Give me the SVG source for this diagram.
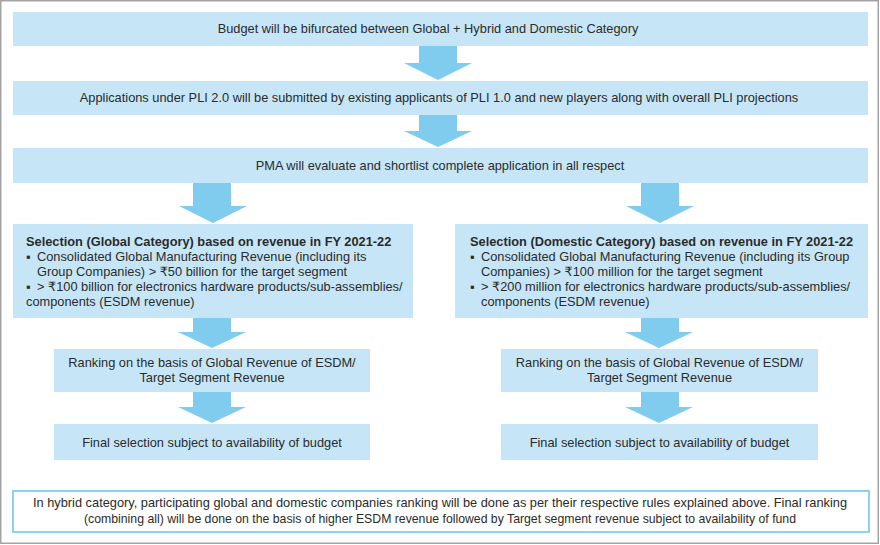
<svg xmlns="http://www.w3.org/2000/svg" width="880" height="545" viewBox="0 0 880 545">
<style>
.box{fill:#c6e6f8}
.arr{fill:#80ccef}
text{font-family:"Liberation Sans",Arial,"DejaVu Sans",sans-serif;font-size:12.8px;fill:#2b2b2b}
.c{text-anchor:middle}
.b{font-weight:bold}
</style>
<rect x="0.75" y="0.75" width="877.5" height="542.5" fill="#ffffff" stroke="#a3a3a3" stroke-width="1.5"/>
<g id="connectors">
<polygon class="arr" points="419,45 457,45 457,63 472,63 438,80 404,63 419,63"/>
<polygon class="arr" points="419,115 457,115 457,131 472,131 438,147 404,131 419,131"/>
<polygon class="arr" points="193,183 231,183 231,206 247,206 213,223 179,206 193,206"/>
<polygon class="arr" points="641,183 679,183 679,206 694,206 660,223 626,206 641,206"/>
<polygon class="arr" points="193,318 231,318 231,332 246,332 212,348 178,332 193,332"/>
<polygon class="arr" points="193,392 231,392 231,407 246,407 212,423 178,407 193,407"/>
<polygon class="arr" points="641,318 679,318 679,332 693,332 659,348 625,332 641,332"/>
<polygon class="arr" points="641,392 679,392 679,407 693,407 659,423 625,407 641,407"/>
</g>
<g id="budget">
<rect class="box" x="13" y="12" width="855" height="34"/>
<text class="c" x="428" y="33">Budget will be bifurcated between Global + Hybrid and Domestic Category</text>
</g>
<g id="applications">
<rect class="box" x="13" y="81" width="855" height="34"/>
<text class="c" x="439" y="102">Applications under PLI 2.0 will be submitted by existing applicants of PLI 1.0 and new players along with overall PLI projections</text>
</g>
<g id="pma">
<rect class="box" x="13" y="148" width="855" height="35"/>
<text class="c" x="440" y="170">PMA will evaluate and shortlist complete application in all respect</text>
</g>
<g id="global-selection">
<rect class="box" x="13" y="224" width="400" height="94"/>
<text class="b" x="26" y="246">Selection (Global Category) based on revenue in FY 2021-22</text>
<text x="26" y="261">▪</text>
<text x="37" y="261">Consolidated Global Manufacturing Revenue (including its</text>
<text x="37" y="276">Group Companies) &gt; ₹50 billion for the target segment</text>
<text x="26" y="291">▪</text>
<text x="37" y="291">&gt; ₹100 billion for electronics hardware products/sub-assemblies/</text>
<text x="26" y="306">components (ESDM revenue)</text>
</g>
<g id="domestic-selection">
<rect class="box" x="455" y="224" width="413" height="94"/>
<text class="b" x="470" y="246">Selection (Domestic Category) based on revenue in FY 2021-22</text>
<text x="470" y="261">▪</text>
<text x="481" y="261">Consolidated Global Manufacturing Revenue (including its Group</text>
<text x="481" y="276">Companies) &gt; ₹100 million for the target segment</text>
<text x="470" y="291">▪</text>
<text x="481" y="291">&gt; ₹200 million for electronics hardware products/sub-assemblies/</text>
<text x="481" y="306">components (ESDM revenue)</text>
</g>
<g id="global-ranking">
<rect class="box" x="54" y="349" width="316" height="43"/>
<text class="c" x="212" y="367">Ranking on the basis of Global Revenue of ESDM/</text>
<text class="c" x="212" y="382">Target Segment Revenue</text>
</g>
<g id="domestic-ranking">
<rect class="box" x="501" y="349" width="317" height="43"/>
<text class="c" x="659.5" y="367">Ranking on the basis of Global Revenue of ESDM/</text>
<text class="c" x="659.5" y="382">Target Segment Revenue</text>
</g>
<g id="global-final">
<rect class="box" x="54" y="424" width="316" height="36"/>
<text class="c" x="212" y="447">Final selection subject to availability of budget</text>
</g>
<g id="domestic-final">
<rect class="box" x="501" y="424" width="317" height="36"/>
<text class="c" x="659.5" y="447">Final selection subject to availability of budget</text>
</g>
<g id="hybrid-note">
<rect x="13" y="491" width="856" height="41" fill="#ffffff" stroke="#8fd0ee" stroke-width="2"/>
<text class="c" x="440" y="507" textLength="814" lengthAdjust="spacingAndGlyphs">In hybrid category, participating global and domestic companies ranking will be done as per their respective rules explained above. Final ranking</text>
<text class="c" x="440" y="523" textLength="712" lengthAdjust="spacingAndGlyphs">(combining all) will be done on the basis of higher ESDM revenue followed by Target segment revenue subject to availability of fund</text>
</g>
</svg>
